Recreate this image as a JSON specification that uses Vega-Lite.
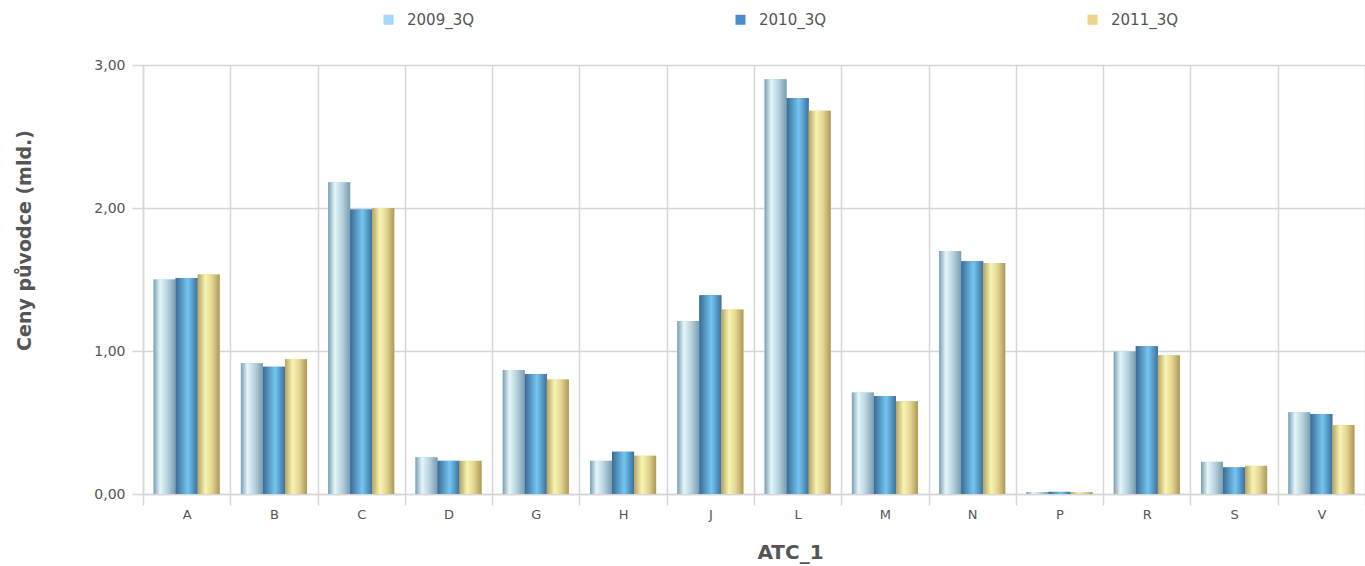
{
  "$schema": "https://vega.github.io/schema/vega-lite/v6.json",
  "width": 1222,
  "height": 429,
  "autosize": {"type": "none"},
  "padding": {"left": 143, "top": 65, "right": 0, "bottom": 72},
  "background": "white",
  "config": {"view": {"stroke": null}, "font": "DejaVu Sans"},
  "data": {
    "values": [
      {"atc": "A", "year": "2009_3Q", "value": 1.50},
      {"atc": "A", "year": "2010_3Q", "value": 1.51},
      {"atc": "A", "year": "2011_3Q", "value": 1.535},
      {"atc": "B", "year": "2009_3Q", "value": 0.915},
      {"atc": "B", "year": "2010_3Q", "value": 0.89},
      {"atc": "B", "year": "2011_3Q", "value": 0.942},
      {"atc": "C", "year": "2009_3Q", "value": 2.18},
      {"atc": "C", "year": "2010_3Q", "value": 1.99},
      {"atc": "C", "year": "2011_3Q", "value": 2.0},
      {"atc": "D", "year": "2009_3Q", "value": 0.257},
      {"atc": "D", "year": "2010_3Q", "value": 0.232},
      {"atc": "D", "year": "2011_3Q", "value": 0.232},
      {"atc": "G", "year": "2009_3Q", "value": 0.867},
      {"atc": "G", "year": "2010_3Q", "value": 0.84},
      {"atc": "G", "year": "2011_3Q", "value": 0.80},
      {"atc": "H", "year": "2009_3Q", "value": 0.232},
      {"atc": "H", "year": "2010_3Q", "value": 0.296},
      {"atc": "H", "year": "2011_3Q", "value": 0.268},
      {"atc": "J", "year": "2009_3Q", "value": 1.21},
      {"atc": "J", "year": "2010_3Q", "value": 1.39},
      {"atc": "J", "year": "2011_3Q", "value": 1.29},
      {"atc": "L", "year": "2009_3Q", "value": 2.90},
      {"atc": "L", "year": "2010_3Q", "value": 2.77},
      {"atc": "L", "year": "2011_3Q", "value": 2.68},
      {"atc": "M", "year": "2009_3Q", "value": 0.71},
      {"atc": "M", "year": "2010_3Q", "value": 0.686},
      {"atc": "M", "year": "2011_3Q", "value": 0.648},
      {"atc": "N", "year": "2009_3Q", "value": 1.70},
      {"atc": "N", "year": "2010_3Q", "value": 1.627},
      {"atc": "N", "year": "2011_3Q", "value": 1.615},
      {"atc": "P", "year": "2009_3Q", "value": 0.014},
      {"atc": "P", "year": "2010_3Q", "value": 0.015},
      {"atc": "P", "year": "2011_3Q", "value": 0.013},
      {"atc": "R", "year": "2009_3Q", "value": 0.997},
      {"atc": "R", "year": "2010_3Q", "value": 1.034},
      {"atc": "R", "year": "2011_3Q", "value": 0.971},
      {"atc": "S", "year": "2009_3Q", "value": 0.225},
      {"atc": "S", "year": "2010_3Q", "value": 0.186},
      {"atc": "S", "year": "2011_3Q", "value": 0.197},
      {"atc": "V", "year": "2009_3Q", "value": 0.572},
      {"atc": "V", "year": "2010_3Q", "value": 0.56},
      {"atc": "V", "year": "2011_3Q", "value": 0.483}
    ]
  },
  "encoding": {
    "x": {
      "field": "atc",
      "type": "nominal",
      "scale": {"paddingInner": 0, "paddingOuter": 0},
      "axis": {
        "title": "ATC_1",
        "tickBand": "extent",
        "labelAngle": 0,
        "grid": true,
        "gridColor": "#d6d6d6",
        "gridWidth": 1.5,
        "domainColor": "#d6d6d6",
        "domainWidth": 1.5,
        "tickColor": "#d6d6d6",
        "tickWidth": 1.5,
        "tickSize": 11,
        "labelColor": "#555555",
        "labelFontSize": 13,
        "labelPadding": 3,
        "titleFontSize": 20,
        "titleFontWeight": "bold",
        "titleColor": "#555555",
        "titleX": 647,
        "titleY": 58,
        "titleBaseline": "middle"
      }
    },
    "y": {
      "field": "value",
      "type": "quantitative",
      "scale": {"domain": [0, 3], "nice": false},
      "axis": {
        "title": "Ceny původce (mld.)",
        "values": [0, 1, 2, 3],
        "labelExpr": "replace(format(datum.value, '.2f'), '.', ',')",
        "grid": true,
        "gridColor": "#d6d6d6",
        "gridWidth": 1.5,
        "domainColor": "#d6d6d6",
        "domainWidth": 1.5,
        "tickColor": "#d6d6d6",
        "tickWidth": 1.5,
        "tickSize": 11,
        "labelColor": "#555555",
        "labelFontSize": 14,
        "labelPadding": 7,
        "titleFontSize": 19,
        "titleFontWeight": "bold",
        "titleColor": "#555555",
        "titleAngle": -90,
        "titleX": -119,
        "titleY": 175,
        "titleBaseline": "middle",
        "titleAlign": "center"
      }
    },
    "xOffset": {
      "field": "year",
      "type": "nominal",
      "scale": {"domain": ["2009_3Q", "2010_3Q", "2011_3Q"], "paddingInner": 0, "paddingOuter": 0.48}
    }
  },
  "layer": [
    {
      "mark": {"type": "bar"},
      "encoding": {
        "color": {
          "field": "year",
          "type": "nominal",
          "scale": {"domain": ["2009_3Q", "2010_3Q", "2011_3Q"], "range": ["#a6d6f7", "#4d8ccc", "#f0d286"]},
          "legend": {
            "orient": "none",
            "legendX": 238,
            "legendY": -53,
            "direction": "horizontal",
            "title": null,
            "symbolType": "square",
            "symbolSize": 100,
            "symbolStrokeWidth": 0,
            "labelFont": "DejaVu Sans",
            "labelFontSize": 15,
            "labelColor": "#555555",
            "columnPadding": 258,
            "labelOffset": 11
          }
        }
      }
    },
    {
      "transform": [{"filter": "datum.year === '2009_3Q'"}],
      "mark": {
        "type": "bar",
        "fill": {
          "gradient": "linear", "x1": 0, "y1": 0, "x2": 1, "y2": 0,
          "stops": [
            {"offset": 0, "color": "#7b9eb3"},
            {"offset": 0.3, "color": "#e4f6f9"},
            {"offset": 0.62, "color": "#b8d4df"},
            {"offset": 1, "color": "#7b9cb0"}
          ]
        }
      }
    },
    {
      "transform": [{"filter": "datum.year === '2010_3Q'"}],
      "mark": {
        "type": "bar",
        "fill": {
          "gradient": "linear", "x1": 0, "y1": 0, "x2": 1, "y2": 0,
          "stops": [
            {"offset": 0, "color": "#3a6b95"},
            {"offset": 0.55, "color": "#74c6f2"},
            {"offset": 1, "color": "#3c719c"}
          ]
        }
      }
    },
    {
      "transform": [{"filter": "datum.year === '2011_3Q'"}],
      "mark": {
        "type": "bar",
        "fill": {
          "gradient": "linear", "x1": 0, "y1": 0, "x2": 1, "y2": 0,
          "stops": [
            {"offset": 0, "color": "#b5a363"},
            {"offset": 0.35, "color": "#f8f4b2"},
            {"offset": 0.65, "color": "#e3d592"},
            {"offset": 1, "color": "#ad9858"}
          ]
        }
      }
    }
  ]
}
